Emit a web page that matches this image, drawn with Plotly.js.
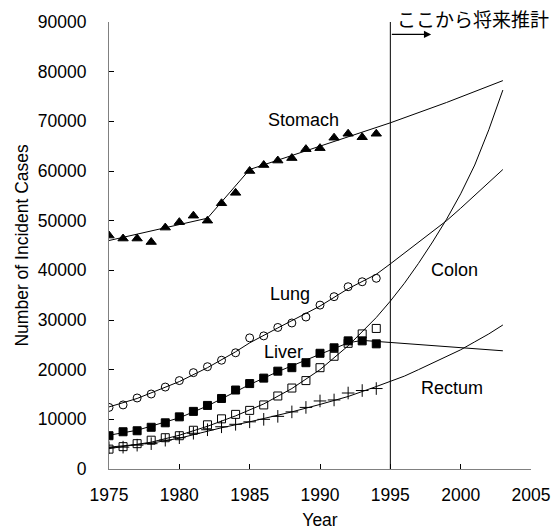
<!DOCTYPE html>
<html>
<head>
<meta charset="utf-8">
<script src="https://cdn.plot.ly/plotly-3.0.1.min.js"></script>
<style>
  html, body { margin: 0; padding: 0; background: #fff; }
  #chart { width: 559px; height: 530px; }
</style>
</head>
<body>
<div id="chart"></div>
<script>
// Observed data (1975-1994)
const years = [1975,1976,1977,1978,1979,1980,1981,1982,1983,1984,1985,1986,1987,1988,1989,1990,1991,1992,1993,1994];
const stomach = [47000,46400,46400,45700,48600,49700,51000,50000,53500,55600,60000,61200,62100,62600,64400,64600,66700,67500,66800,67500];
const lung    = [12400,12900,14300,15100,16500,17800,19400,20600,21900,23400,26400,26800,28500,29400,30600,33000,34700,36700,37700,38400];
const liver   = [6700,7500,7700,8400,9300,10500,11600,12800,14200,15900,17200,18300,19700,20400,21400,23300,24400,25800,25800,25200];
const colon   = [4000,4500,5100,5800,6300,6700,7800,8900,10100,11000,11800,12900,14700,16300,17800,20400,22700,25300,27200,28300];
const rectum  = [4300,4400,4800,5100,5800,6300,7200,7900,8500,9000,9500,10000,10600,11500,12400,13700,13900,15300,15800,16200];

// Fitted / projected curves
const stomachFitYears = [1975,1982,1985,1990,1995,1999,2003];
const stomachFit      = [46000,50500,60300,65000,69700,73800,78200];

const lungFitYears = [1975,1977,1980,1982,1984,1985,1987,1990,1992,1994,1995,1996,1997,1998,1999,2000,2001,2002,2003];
const lungFit      = [12500,14200,17600,20400,23600,25400,28400,32800,36300,39200,41300,43500,45600,47800,50000,52500,55100,57700,60300];

const liverFitYears = [1975,1977,1980,1982,1985,1987,1990,1992,1993,2003];
const liverFit      = [6800,7800,10300,12700,17000,19600,23100,25400,25900,23800];

const colonFitYears = [1975,1978,1980,1982,1984,1986,1988,1990,1992,1994,1995,1996,1997,1998,1999,2000,2001,2002,2003];
const colonFit      = [4100,5400,6800,8600,10700,13100,16200,20000,24800,30500,33800,37400,41400,45700,50300,55400,61200,68300,76300];

const rectumFitYears = [1975,1978,1980,1983,1985,1988,1990,1992,1994,1995,1996,1997,1998,1999,2000,2001,2002,2003];
const rectumFit      = [4400,5200,6200,8300,9500,11500,13000,14600,16600,17600,18700,20000,21300,22600,24000,25600,27200,29000];

const xTicks = [1975,1980,1985,1990,1995,2000,2005];
const yTicks = [0,10000,20000,30000,40000,50000,60000,70000,80000,90000];

const FONT = 'Arial, "Liberation Sans", sans-serif';
const lineStyle = {color: '#000', width: 1};

function fit(x, y) {
  return {x: x, y: y, mode: 'lines', line: lineStyle, hoverinfo: 'skip', showlegend: false};
}
function pts(y, symbol, size) {
  return {x: years, y: y, mode: 'markers', showlegend: false,
    marker: {symbol: symbol, size: size, color: '#000', line: {color: '#000', width: 1}}};
}

const data = [
  fit(stomachFitYears, stomachFit),
  fit(lungFitYears, lungFit),
  fit(liverFitYears, liverFit),
  fit(colonFitYears, colonFit),
  fit(rectumFitYears, rectumFit),
  pts(stomach, 'triangle-up', 9),
  pts(lung, 'circle-open', 8),
  pts(rectum, 'cross-thin-open', 9),
  pts(colon, 'square-open', 8),
  pts(liver, 'square', 8)
];

const layout = {
  width: 559, height: 530,
  margin: {l: 109, r: 28, t: 22, b: 61},
  paper_bgcolor: '#fff', plot_bgcolor: '#fff',
  font: {family: FONT, size: 17.5, color: '#000'},
  xaxis: {
    range: [1975, 2005], tickvals: xTicks, ticktext: xTicks.map(String),
    ticks: 'inside', ticklen: 5, tickcolor: '#000', tickwidth: 1,
    showline: true, linecolor: '#808080', linewidth: 1,
    showgrid: false, zeroline: false, ticklabelstandoff: 10,
    title: {text: 'Year', font: {size: 17.5}, standoff: 11}
  },
  yaxis: {
    range: [0, 90000], tickvals: yTicks, ticktext: yTicks.map(String),
    ticks: 'inside', ticklen: 5, tickcolor: '#000', tickwidth: 1,
    showline: true, linecolor: '#808080', linewidth: 1,
    showgrid: false, zeroline: false, ticklabelstandoff: 18
  },
  shapes: [
    {type: 'line', xref: 'x', yref: 'y', x0: 1995, x1: 1995, y0: 0, y1: 90000,
     line: {color: '#000', width: 1}}
  ],
  annotations: [
    {x: -0.2085, y: 0.5, xref: 'paper', yref: 'paper', xanchor: 'center', yanchor: 'middle',
     text: 'Number of Incident Cases', textangle: -90, showarrow: false, font: {size: 17.5}},
    {x: 1988.8, y: 70200, text: 'Stomach', showarrow: false, font: {size: 18}},
    {x: 1987.9, y: 35300, text: 'Lung', showarrow: false, font: {size: 18}},
    {x: 1987.4, y: 23500, text: 'Liver', showarrow: false, font: {size: 18}},
    {x: 1999.55, y: 40000, text: 'Colon', showarrow: false, font: {size: 18}},
    {x: 1999.35, y: 16400, text: 'Rectum', showarrow: false, font: {size: 18}},
    {x: 1995.3, y: 1.008, xref: 'x', yref: 'paper', xanchor: 'left', yanchor: 'middle',
     text: 'ここから将来推計', showarrow: false,
     font: {size: 19, family: '"Noto Sans CJK JP", sans-serif'}},
    {x: 1997.9, y: 87500, ax: 1995, ay: 87500, axref: 'x', ayref: 'y', xref: 'x', yref: 'y',
     text: '', showarrow: true, arrowhead: 2, arrowsize: 1.2, arrowwidth: 1.2, arrowcolor: '#000'}
  ]
};

Plotly.newPlot('chart', data, layout, {staticPlot: true, displayModeBar: false});
</script>
</body>
</html>
